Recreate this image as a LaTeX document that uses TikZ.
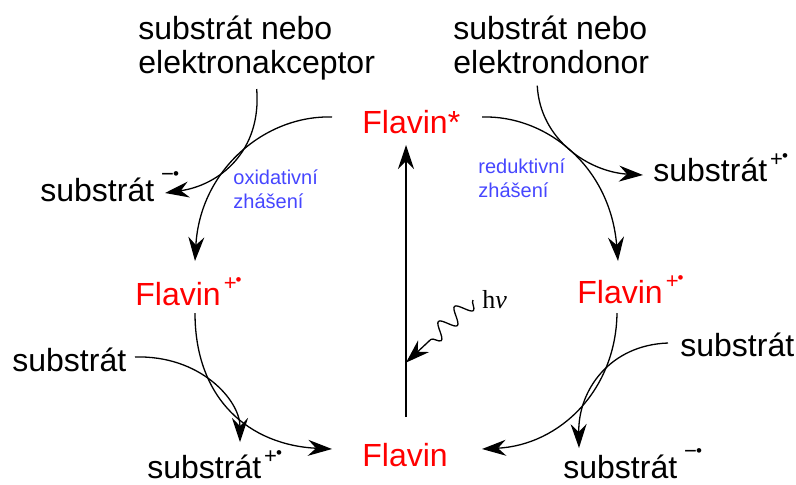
\documentclass[tikz,border=0pt]{standalone}
\usepackage{fontspec}
\setmainfont{Liberation Sans}
\newfontfamily\seriffont{Liberation Serif}
\usetikzlibrary{arrows.meta,decorations.pathmorphing}
\definecolor{quenchblue}{RGB}{70,70,255}
\newcommand{\radplus}{\hspace{1.5pt}\raisebox{7.3pt}{\fontsize{11}{11}\selectfont +\kern-0.5pt\raisebox{2.5pt}{\fontsize{8.5}{8.5}\selectfont\textbullet}}}
\newcommand{\radminus}{\hspace{3.5pt}\raisebox{9.8pt}{\fontsize{11}{11}\selectfont −\kern-0.5pt\raisebox{0.8pt}{\fontsize{8.5}{8.5}\selectfont\textbullet}}}
\begin{document}
\begin{tikzpicture}[x=0.5pt,y=-0.5pt]
   \tikzset{txt/.style = {inner sep=0pt, anchor=base west, font=\fontsize{16}{17}\selectfont},
            flavin/.style = {txt, text=red},
            quench/.style = {inner sep=0pt, anchor=north west, align=left, text=quenchblue, font=\fontsize{10}{12}\selectfont},
            arr/.style = {line width=0.65pt, -{Stealth[length=12pt,width=8pt,inset=4pt]}}}
   \useasboundingbox (0,0) rectangle (796,484);

   \node[txt, anchor=north west, align=left] (acc) at (138,16) {substrát nebo\\elektronakceptor};
   \node[txt, anchor=north west, align=left] (don) at (453,16) {substrát nebo\\elektrondonor};
   \node[flavin] (fstar) at (362,133) {Flavin*};
   \node[txt] (sminus) at (40,201) {substrát\radminus};
   \node[txt] (splusR) at (653,181) {substrát\radplus};
   \node[quench] (oxq) at (233,169) {oxidativní\\zhášení};
   \node[quench] (redq) at (478,158) {reduktivní\\zhášení};
   \node[flavin] (foxL) at (135,305) {Flavin\radplus};
   \node[flavin] (fredR) at (577,303) {Flavin\radplus};
   \node[txt] (subL) at (12,371) {substrát};
   \node[txt] (subR) at (680,356) {substrát};
   \node[txt] (splusB) at (147,478) {substrát\radplus};
   \node[flavin] (flav) at (362,466) {Flavin};
   \node[txt] (sminusB) at (563,478) {substrát\radminus};
   \node[txt, font=\seriffont\fontsize{13}{15}\selectfont] (hv) at (482,308) {h\textit{ν}};

   \draw[arr] ([shift={(-30,-16)}]fstar.base west) .. controls +(-67,-2) and +(5,-91) .. ([shift={(60,-44)}]foxL.base west);
   \draw[arr] ([shift={(0,8)}]acc.south) .. controls +(5,62) and +(55,-8) .. ([shift={(125,-8)}]sminus.base west);
   \draw[arr] ([shift={(120,-16)}]fstar.base west) .. controls +(63,-2) and +(-8,-96) .. ([shift={(41,-42)}]fredR.base west);
   \draw[arr] ([shift={(-14,11)}]don.south) .. controls +(3,55) and +(-53,-3) .. ([shift={(-10,-6)}]splusR.base west);
   \draw[arr] ([shift={(60,8)}]foxL.base west) .. controls +(0,87) and +(-82,-4) .. ([shift={(-30,-17)}]flav.base west);
   \draw[arr] ([shift={(123,-14)}]subL.base west) .. controls +(65,-2) and +(0,-42) .. ([shift={(93,-36)}]splusB.base west);
   \draw[arr] ([shift={(40,10)}]fredR.base west) .. controls +(-1,77) and +(78,-4) .. ([shift={(120,-17)}]flav.base west);
   \draw[arr] ([shift={(-12,-13)}]subR.base west) .. controls +(-58,2) and +(-1,-58) .. ([shift={(16,-30)}]sminusB.base west);

   \draw[arr] ([shift={(44,-49)}]flav.base west) -- coordinate[pos=0.2] (hit) ([shift={(44,12)}]fstar.base west);
   \draw[arr, decorate, decoration={snake, amplitude=4pt, segment length=11pt, post length=14pt}]
      ([shift={(-9,-8)}]hv.base west) -- (hit);
\end{tikzpicture}
\end{document}
